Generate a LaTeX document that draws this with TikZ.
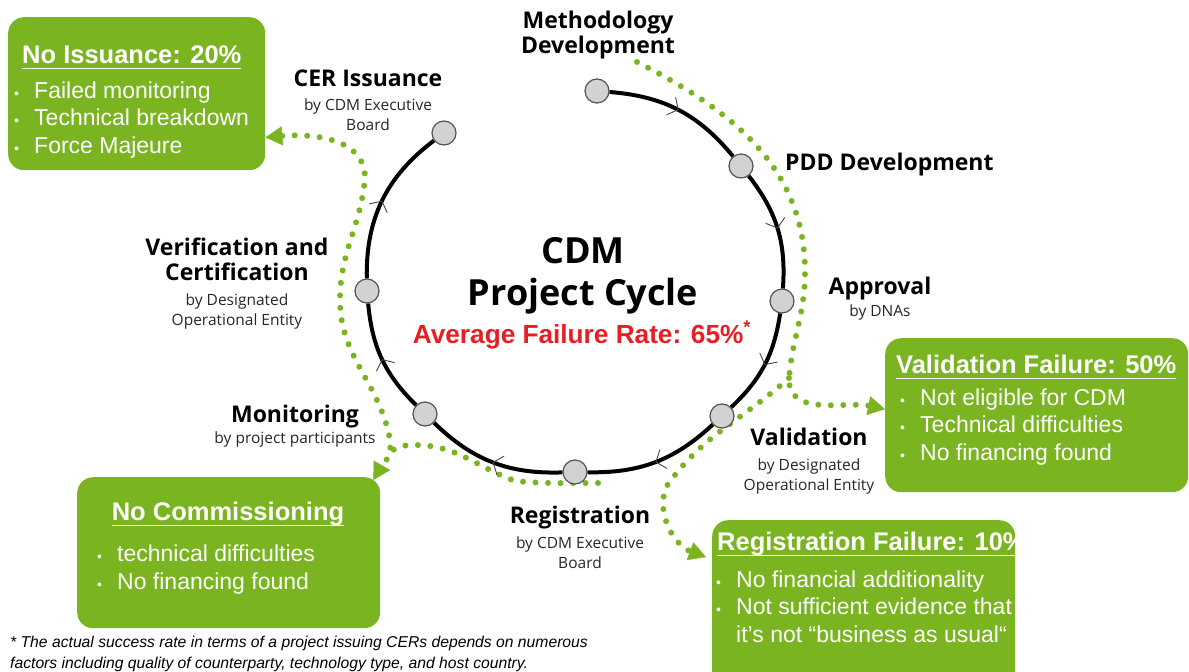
\documentclass[tikz,border=0pt]{standalone}
\usepackage{fontspec}
\setmainfont{Liberation Sans}
\newfontfamily\stagefont{Open Sans}
\usetikzlibrary{arrows.meta,decorations.markings,positioning}
\definecolor{cdmgreen}{RGB}{122,181,33}
\definecolor{cdmred}{RGB}{232,30,36}
\definecolor{stagegray}{RGB}{210,210,210}
\newsavebox{\headbox}
\newcommand{\headline}[1]{\sbox{\headbox}{#1}\rlap{\rule[-6pt]{\wd\headbox}{1.5pt}}\usebox{\headbox}}
\newcommand{\bul}{\makebox[20pt][l]{\fontsize{14}{14}\selectfont\textbullet}}
\tikzset{
    stage/.style     = {circle,
                        fill=stagegray,
                        draw=gray!65!black,
                        line width=1.2pt,
                        minimum size=24pt,
                        inner sep=0pt},
    cycleline/.style = {line width=4pt,
                        draw=black,
                        postaction={decorate},
                        decoration={markings,
                                    mark=at position .5 with {\arrow{Straight Barb[length=8pt,width=20pt,line width=.9pt,color=gray!55!black]}}}},
    stagehead/.style = {align=center,
                        anchor=base,
                        inner sep=0pt,
                        font=\stagefont\bfseries\fontsize{23}{25}\selectfont},
    stagesub/.style  = {align=center,
                        anchor=base,
                        inner sep=0pt,
                        text=black!85,
                        font=\stagefont\fontsize{15.5}{20}\selectfont},
    failbox/.style   = {rectangle,
                        rounded corners=16pt,
                        fill=cdmgreen,
                        anchor=north west,
                        inner sep=0pt},
    failhead/.style  = {anchor=base west,
                        inner sep=0pt,
                        text=white,
                        font=\bfseries\fontsize{25.5}{30}\selectfont},
    faillist/.style  = {align=left,
                        anchor=base west,
                        inner sep=0pt,
                        text=white,
                        font=\fontsize{23}{27.5}\selectfont},
    failflow/.style  = {draw=cdmgreen,
                        line width=6pt,
                        line cap=round,
                        dash pattern=on 0pt off 12.5pt,
                        >={Triangle[length=17pt,width=19pt,line width=.5pt]}}
}
\begin{document}
\begin{tikzpicture}[x=1pt,y=-1pt]
    \useasboundingbox (0,0) rectangle (1189,672);
    \clip (0,0) rectangle (1189,672);

    \node[failbox, minimum width=257pt, minimum height=153pt] (noiss)   at (8,17)    {};
    \node[failbox, minimum width=303pt, minimum height=154pt] (valfail) at (885,338) {};
    \node[failbox, minimum width=303pt, minimum height=175pt] (regfail) at (712,520) {};
    \node[failbox, minimum width=303pt, minimum height=151pt] (nocomm)  at (77,477)  {};

    \node[failhead]              (noisshead)   at (22,63)   {\headline{No Issuance: 20\%}};
    \node[faillist]              (noisslist)   at (14,153)  {\bul Failed monitoring\\\bul Technical breakdown\\\bul Force Majeure};
    \node[failhead]              (valfailhead) at (896,373) {\headline{Validation Failure: 50\%}};
    \node[faillist]              (valfaillist) at (900,460) {\bul Not eligible for CDM\\\bul Technical difficulties\\\bul No financing found};
    \node[failhead]              (regfailhead) at (717,550) {\headline{Registration Failure: 10\%}};
    \node[faillist]              (regfaillist) at (716,642) {\bul No financial additionality\\\bul Not sufficient evidence that\\\makebox[20pt]{}it's not “business as usual“};
    \node[failhead, anchor=base] (nocommhead)  at (228,520) {\headline{No Commissioning}};
    \node[faillist]              (nocommlist)  at (97,589)  {\bul technical difficulties\\\bul No financing found};

    \coordinate (flowtop)   at (637,62);
    \coordinate (flowright) at (805,272);
    \coordinate (flowsplit) at (789,378);
    \coordinate (flowbend)  at (666,487);
    \coordinate (lefttop)   at (365,178);
    \coordinate (leftmid)   at (340,300);
    \coordinate (monjoin)   at (390,440);
    \coordinate (monlow)    at (388,456);
    \coordinate (regstart)  at (598,483);
    \coordinate (regbend)   at (515,481);
    \coordinate (regmid)    at (415,445);
    \coordinate (valtip)    at ([yshift=6pt]valfail.west);
    \coordinate (regtip)    at ([xshift=-6pt,yshift=-37pt]regfail.north west);
    \coordinate (isstip)    at ([yshift=33pt]noiss.south east);
    \coordinate (commtip)   at ([xshift=-7pt,yshift=-3pt]nocomm.north east);

    \draw[failflow,->]  (flowtop) to[out=-27,in=90] (flowright) to[out=-90,in=85] (flowsplit) to[out=-92,in=168] (valtip);
    \draw[failflow,->]  (flowsplit) to[out=-138,in=55] (flowbend) to[out=-110,in=160] (regtip);
    \draw[failflow,<->] (isstip) to[out=5,in=90] (lefttop) to[out=-95,in=90] (leftmid) to[out=-90,in=100] (monjoin) to[out=-80,in=60] (commtip);
    \draw[failflow]     (regstart) to[out=180,in=-5] (regbend) to[out=160,in=0] (regmid) to[out=180,in=60] (monlow);

    \node[stage] (meth) at (597,91)  {};
    \node[stage] (pdd)  at (741,166) {};
    \node[stage] (appr) at (782,301) {};
    \node[stage] (vali) at (722,416) {};
    \node[stage] (regi) at (575,472) {};
    \node[stage] (moni) at (425,414) {};
    \node[stage] (veri) at (367,291) {};
    \node[stage] (cer)  at (444,133) {};
    \path (meth) edge[cycleline, bend left=23] (pdd)
          (pdd)  edge[cycleline, bend left=21] (appr)
          (appr) edge[cycleline, bend left=19] (vali)
          (vali) edge[cycleline, bend left=22] (regi)
          (regi) edge[cycleline, bend left=23] (moni)
          (moni) edge[cycleline, bend left=20] (veri)
          (veri) edge[cycleline, bend left=27] (cer);

    \node[stagehead]                   (methhead) at (598,53)  {Methodology\\Development};
    \node[stagehead]                   (cerhead)  at (368,86)  {CER Issuance};
    \node[stagesub]                    (cersub)   at ([yshift=-44pt]cerhead.base) {by CDM Executive\\Board};
    \node[stagehead, anchor=base west] (pddhead)  at (785,170) {PDD Development};
    \node[stagehead]                   (verhead)  at (237,280) {Verification and\\Certification};
    \node[stagesub]                    (versub)   at (237,325) {by Designated\\Operational Entity};
    \node[stagehead]                   (apphead)  at (880,294) {Approval};
    \node[stagesub]                    (appsub)   at ([yshift=-22pt]apphead.base) {by DNAs};
    \node[stagehead]                   (monhead)  at (295,422) {Monitoring};
    \node[stagesub]                    (monsub)   at ([yshift=-21pt]monhead.base) {by project participants};
    \node[stagehead]                   (valhead)  at (809,445) {Validation};
    \node[stagesub]                    (valsub)   at ([yshift=-45pt]valhead.base) {by Designated\\Operational Entity};
    \node[stagehead]                   (reghead)  at (580,523) {Registration};
    \node[stagesub]                    (regsub)   at ([yshift=-45pt]reghead.base) {by CDM Executive\\Board};

    \node[align=center, anchor=base, inner sep=0pt, font=\stagefont\bfseries\fontsize{36}{42}\selectfont] (cdm) at (583,305) {CDM\\Project Cycle};
    \node[anchor=base, inner sep=0pt, text=cdmred, font=\bfseries\fontsize{26.2}{30}\selectfont] (rate) at (582,343) {Average Failure Rate: 65\%\textsuperscript{*}};
    \node[align=left, anchor=base west, inner sep=0pt, font=\itshape\fontsize{15.7}{21}\selectfont] (note) at (10,668) {* The actual success rate in terms of a project issuing CERs depends on numerous\\factors including quality of counterparty, technology type, and host country.};
\end{tikzpicture}
\end{document}
